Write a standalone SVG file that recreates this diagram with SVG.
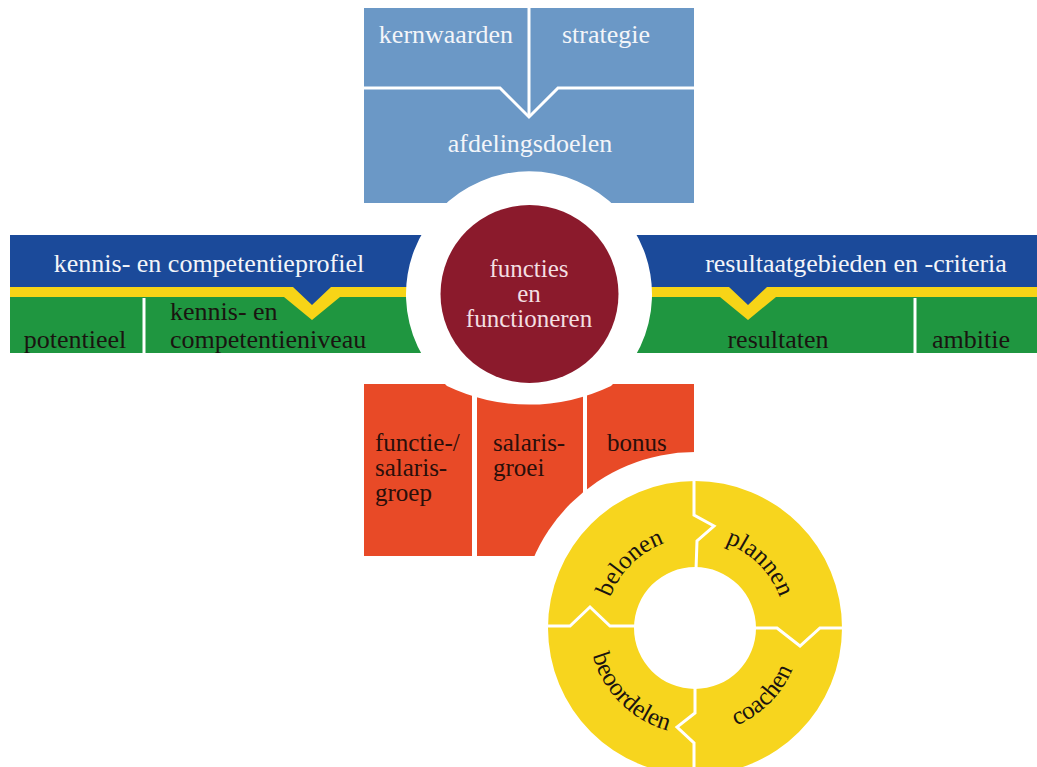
<svg xmlns="http://www.w3.org/2000/svg" width="1037" height="767" viewBox="0 0 1037 767">
<defs>
<style>
.t{font-family:"Liberation Serif","Times New Roman",serif;font-size:26px}
.s{font-size:25px}
.w{fill:#f3f5f9}
.d{fill:#1a1410}
.o{fill:#2a0f0a}
.c{fill:#f3dfe2}
.sep{fill:none;stroke:#ffffff;stroke-width:3;stroke-linejoin:miter}
</style>
<path id="pBel" d="M605,628 A90,90 0 0 1 695,538"/>
<path id="pPla" d="M695,538 A90,90 0 0 1 785,628"/>
<path id="pBeo" d="M589,628 A106,106 0 0 0 695,734"/>
<path id="pCoa" d="M695,734 A106,106 0 0 0 801,628"/>
</defs>
<rect width="1037" height="767" fill="#ffffff"/>

<g id="top-block">
<rect x="364" y="8" width="330" height="195" fill="#6b98c6"/>
<polyline class="sep" points="364,88 500,88 529,117 558,88 694,88"/>
<line class="sep" x1="529" y1="8" x2="529" y2="117"/>
<text class="t w" x="446" y="43" text-anchor="middle">kernwaarden</text>
<text class="t w" x="606" y="43" text-anchor="middle">strategie</text>
<text class="t w" x="530" y="152" text-anchor="middle">afdelingsdoelen</text>
</g>

<g id="left-band">
<rect x="10" y="287" width="450" height="66" fill="#1f9640"/>
<path d="M10,287 H460 V297 H340 L312,320 L284,297 H10 Z" fill="#f7d417"/>
<path d="M10,235 H460 V287 H331 L312,305 L293,287 H10 Z" fill="#1b4a9a"/>
<line class="sep" x1="144" y1="298" x2="144" y2="353"/>
<text class="t w" x="209" y="272" text-anchor="middle">kennis- en competentieprofiel</text>
<text class="t d" x="75" y="348" text-anchor="middle">potentieel</text>
<text class="t d" x="170" y="320">kennis- en</text>
<text class="t d" x="170" y="348">competentieniveau</text>
</g>

<g id="right-band">
<rect x="600" y="287" width="437" height="66" fill="#1f9640"/>
<path d="M600,287 H1037 V297 H776 L748,320 L720,297 H600 Z" fill="#f7d417"/>
<path d="M600,235 H1037 V287 H767 L748,305 L729,287 H600 Z" fill="#1b4a9a"/>
<line class="sep" x1="915" y1="298" x2="915" y2="353"/>
<text class="t w" x="856" y="272" text-anchor="middle">resultaatgebieden en -criteria</text>
<text class="t d" x="778" y="348" text-anchor="middle">resultaten</text>
<text class="t d" x="971" y="348" text-anchor="middle">ambitie</text>
</g>

<g id="reward-blocks">
<rect x="364" y="384" width="108" height="172" fill="#e84a27"/>
<rect x="477" y="384" width="106" height="172" fill="#e84a27"/>
<rect x="587" y="384" width="107" height="172" fill="#e84a27"/>
</g>

<g id="center-node">
<path d="M447,386 A123,123 0 1 1 611,386 A190,190 0 0 1 447,386 Z" fill="#ffffff"/>
<circle cx="529.5" cy="294" r="89" fill="#8b1a2c"/>
<text class="t s c" x="529" y="277" text-anchor="middle">functies</text>
<text class="t s c" x="529" y="302" text-anchor="middle">en</text>
<text class="t s c" x="529" y="327" text-anchor="middle">functioneren</text>
</g>

<g id="reward-texts">
<text class="t s o" x="375" y="451">functie-/</text>
<text class="t s o" x="375" y="476">salaris-</text>
<text class="t s o" x="375" y="501">groep</text>
<text class="t s o" x="493" y="451">salaris-</text>
<text class="t s o" x="493" y="476">groei</text>
<text class="t s o" x="607" y="451">bonus</text>
</g>

<g id="cycle">
<circle cx="695" cy="628" r="176" fill="#ffffff"/>
<path d="M548,628 A147,147 0 1 0 842,628 A147,147 0 1 0 548,628 Z M634,628 A61,61 0 1 1 756,628 A61,61 0 1 1 634,628 Z" fill="#f7d51e" fill-rule="evenodd"/>
</g>

<g id="connectors">
<polyline class="sep" points="694,478 694,515 714,526 697,541 696,570"/>
<polyline class="sep" points="754,628 777,628 800,646 820,628 846,628"/>
<polyline class="sep" points="695,686 695,713 677,727 694,743 694,780"/>
<polyline class="sep" points="544,626 570,626 590,607 610,626 636,626"/>
</g>

<g id="cycle-labels">
<text class="t s d"><textPath href="#pBel" startOffset="50%" text-anchor="middle">belonen</textPath></text>
<text class="t s d"><textPath href="#pPla" startOffset="50%" text-anchor="middle">plannen</textPath></text>
<text class="t s d"><textPath href="#pBeo" startOffset="50%" text-anchor="middle">beoordelen</textPath></text>
<text class="t s d"><textPath href="#pCoa" startOffset="50%" text-anchor="middle">coachen</textPath></text>
</g>
</svg>
